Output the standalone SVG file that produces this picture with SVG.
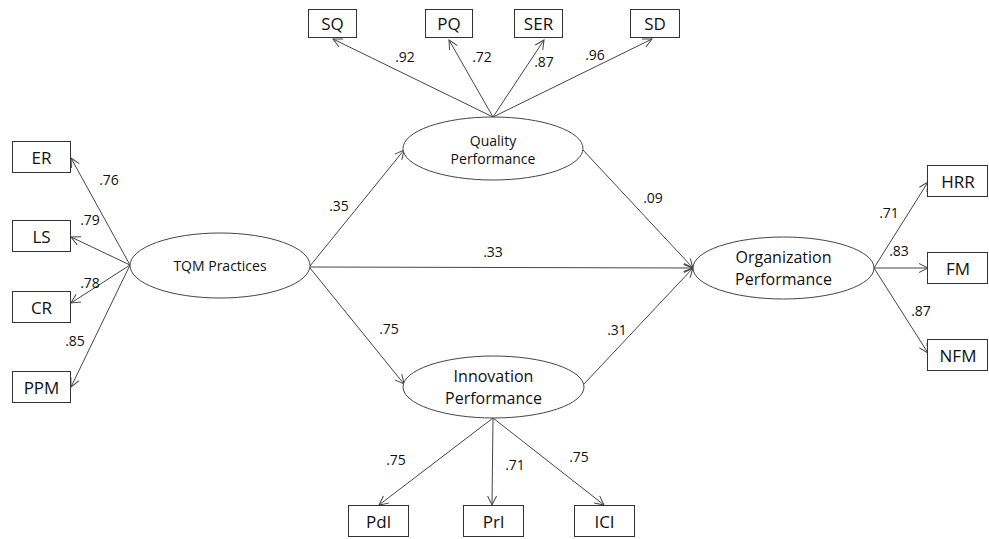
<svg xmlns="http://www.w3.org/2000/svg" width="989" height="539" viewBox="0 0 989 539">
<style>
.box{fill:#fff;stroke:#333;stroke-width:1}
.ell{fill:#fff;stroke:#444;stroke-width:1}
.bt{font-family:"Open Sans","Liberation Sans",sans-serif;font-size:17px;fill:#111;text-anchor:middle}
.et{font-family:"Open Sans","Liberation Sans",sans-serif;fill:#111;text-anchor:middle}
.lb{font-family:"Open Sans","Liberation Sans",sans-serif;font-size:14px;fill:#111;text-anchor:middle}
.c{stroke:#444;stroke-width:1;fill:none;marker-end:url(#ah)}
</style>
<defs>
<marker id="ah" markerUnits="userSpaceOnUse" markerWidth="12" markerHeight="12" refX="10" refY="5" orient="auto">
<path d="M1,0.5 L10,5 L1,9.5" fill="none" stroke="#444" stroke-width="1"/>
</marker>
</defs>
<rect width="989" height="539" fill="#fff"/>
<g id="connectors">
<line class="c" x1="493" y1="117" x2="333" y2="39"/>
<line class="c" x1="493" y1="117" x2="449" y2="40"/>
<line class="c" x1="493" y1="117" x2="544" y2="40"/>
<line class="c" x1="493" y1="117" x2="652" y2="39"/>
<line class="c" x1="130" y1="265" x2="71" y2="158"/>
<line class="c" x1="130" y1="265" x2="71" y2="237"/>
<line class="c" x1="130" y1="265" x2="71" y2="303"/>
<line class="c" x1="130" y1="265" x2="71" y2="387"/>
<line class="c" x1="874" y1="268" x2="928" y2="182"/>
<line class="c" x1="874" y1="268" x2="928" y2="268"/>
<line class="c" x1="874" y1="268" x2="928" y2="353"/>
<line class="c" x1="493" y1="418" x2="379" y2="505"/>
<line class="c" x1="493" y1="418" x2="492" y2="505"/>
<line class="c" x1="493" y1="418" x2="604" y2="505"/>
<line class="c" x1="310" y1="266" x2="404" y2="150"/>
<line class="c" x1="310" y1="267" x2="693" y2="268"/>
<line class="c" x1="310" y1="268" x2="404" y2="384"/>
<line class="c" x1="583" y1="150" x2="693" y2="268"/>
<line class="c" x1="584" y1="384" x2="693" y2="268"/>
</g>
<g id="labels">
<text class="lb" x="405" y="62">.92</text>
<text class="lb" x="482" y="62">.72</text>
<text class="lb" x="544" y="67">.87</text>
<text class="lb" x="595" y="60">.96</text>
<text class="lb" x="109" y="185">.76</text>
<text class="lb" x="90" y="225">.79</text>
<text class="lb" x="90" y="288">.78</text>
<text class="lb" x="75" y="346">.85</text>
<text class="lb" x="889" y="218">.71</text>
<text class="lb" x="899" y="256">.83</text>
<text class="lb" x="921" y="316">.87</text>
<text class="lb" x="396" y="465">.75</text>
<text class="lb" x="515" y="470">.71</text>
<text class="lb" x="579" y="462">.75</text>
<text class="lb" x="339" y="211">.35</text>
<text class="lb" x="493" y="257">.33</text>
<text class="lb" x="389" y="334">.75</text>
<text class="lb" x="653" y="203">.09</text>
<text class="lb" x="617" y="335">.31</text>
</g>
<g id="tqm">
<ellipse class="ell" cx="220" cy="265.5" rx="90" ry="32.5"/>
<text class="et" x="220" y="271" font-size="14">TQM Practices</text>
</g>
<g id="quality">
<ellipse class="ell" cx="493" cy="148.5" rx="90" ry="31.5"/>
<text class="et" x="493" y="146" font-size="14">Quality</text>
<text class="et" x="493" y="164" font-size="14">Performance</text>
</g>
<g id="innovation">
<ellipse class="ell" cx="493.5" cy="387" rx="90.5" ry="31"/>
<text class="et" x="493.5" y="382" font-size="16">Innovation</text>
<text class="et" x="493.5" y="404" font-size="16">Performance</text>
</g>
<g id="organization">
<ellipse class="ell" cx="783.5" cy="268" rx="90.5" ry="31"/>
<text class="et" x="783.5" y="263" font-size="16">Organization</text>
<text class="et" x="783.5" y="285" font-size="16">Performance</text>
</g>
<g id="SQ"><rect class="box" x="308.5" y="9.5" width="48" height="28"/><text class="bt" x="332.5" y="29.5">SQ</text></g>
<g id="PQ"><rect class="box" x="425.5" y="9.5" width="47" height="28"/><text class="bt" x="449" y="29.5">PQ</text></g>
<g id="SER"><rect class="box" x="514.5" y="9.5" width="48" height="28"/><text class="bt" x="538.5" y="29.5">SER</text></g>
<g id="SD"><rect class="box" x="630.5" y="9.5" width="49" height="28"/><text class="bt" x="655" y="29.5">SD</text></g>
<g id="ER"><rect class="box" x="12.5" y="141.5" width="58" height="31"/><text class="bt" x="41.5" y="163.5">ER</text></g>
<g id="LS"><rect class="box" x="12.5" y="220.5" width="58" height="31"/><text class="bt" x="41.5" y="242.5">LS</text></g>
<g id="CR"><rect class="box" x="12.5" y="291.5" width="58" height="31"/><text class="bt" x="41.5" y="313.5">CR</text></g>
<g id="PPM"><rect class="box" x="12.5" y="371.5" width="58" height="31"/><text class="bt" x="41.5" y="393.5">PPM</text></g>
<g id="HRR"><rect class="box" x="927.5" y="165.5" width="60" height="31"/><text class="bt" x="958" y="187.5">HRR</text></g>
<g id="FM"><rect class="box" x="927.5" y="252.5" width="60" height="31"/><text class="bt" x="958" y="274.5">FM</text></g>
<g id="NFM"><rect class="box" x="927.5" y="339.5" width="60" height="31"/><text class="bt" x="958" y="361.5">NFM</text></g>
<g id="Pdl"><rect class="box" x="348.5" y="505.5" width="60" height="31"/><text class="bt" x="378.5" y="527.5">Pdl</text></g>
<g id="Prl"><rect class="box" x="463.5" y="505.5" width="60" height="31"/><text class="bt" x="493.5" y="527.5">Prl</text></g>
<g id="ICI"><rect class="box" x="574.5" y="505.5" width="60" height="31"/><text class="bt" x="604.5" y="527.5">ICI</text></g>
</svg>
